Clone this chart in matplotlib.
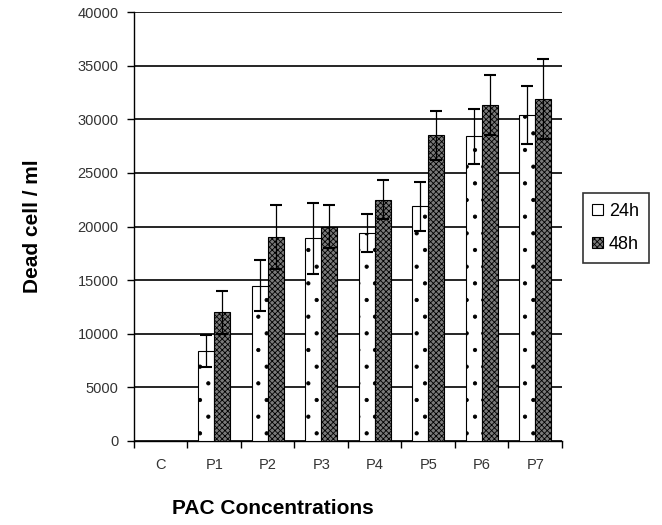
import numpy as np
import matplotlib
matplotlib.use("Agg")
import matplotlib.pyplot as plt

plt.rcParams['font.family'] = ['Liberation Sans', 'DejaVu Sans']
plt.rcParams['hatch.linewidth'] = 0.6

categories = ['C', 'P1', 'P2', 'P3', 'P4', 'P5', 'P6', 'P7']
vals_24h = [0, 8400, 14500, 18900, 19400, 21900, 28400, 30400]
err_24h = [0, 1500, 2400, 3300, 1800, 2300, 2600, 2700]
vals_48h = [0, 12000, 19000, 20000, 22500, 28500, 31300, 31900]
err_48h = [0, 2000, 3000, 2000, 1800, 2300, 2800, 3700]
yticks = [0, 5000, 10000, 15000, 20000, 25000, 30000, 35000, 40000]

fig = plt.figure(figsize=(6.62, 5.25), dpi=100)
ax = fig.add_axes([0.2024, 0.16, 0.6465, 0.817])

x = np.arange(len(categories))
w = 0.3
ax.bar(x - w / 2, vals_24h, w, color='white', edgecolor='black', hatch='.',
       linewidth=0.8, label='24h', zorder=3)
ax.bar(x + w / 2, vals_48h, w, color='#7a7a7a', edgecolor='black', hatch='xxxxxx',
       linewidth=0.8, label='48h', zorder=3)

# error bars only where there is a bar
m = np.array(vals_24h) > 0
ax.errorbar((x - w / 2)[m], np.array(vals_24h)[m], yerr=np.array(err_24h)[m],
            fmt='none', ecolor='black', elinewidth=0.9, capsize=4, capthick=1.5, zorder=4)
ax.errorbar((x + w / 2)[m], np.array(vals_48h)[m], yerr=np.array(err_48h)[m],
            fmt='none', ecolor='black', elinewidth=0.9, capsize=4, capthick=1.5, zorder=4)

ax.set_xlim(-0.5, len(categories) - 0.5)
ax.set_ylim(0, 40000)
ax.set_yticks(yticks)
ax.set_yticklabels([str(v) for v in yticks], fontsize=10.5, color='#333333')
ax.set_xticks(x)
ax.set_xticklabels(categories, fontsize=10.5, color='#333333')
ax.set_xticks(np.arange(len(categories) + 1) - 0.5, minor=True)
ax.tick_params(axis='x', which='major', length=0, pad=12)
ax.tick_params(axis='x', which='minor', length=5, width=1, direction='out')
ax.tick_params(axis='y', length=5, width=1, direction='out', pad=6)

ax.yaxis.grid(True, color='black', linewidth=1.2, zorder=0)
ax.set_axisbelow(True)
ax.spines['top'].set_visible(False)
ax.spines['right'].set_visible(False)
ax.spines['left'].set_linewidth(1.0)
ax.spines['bottom'].set_linewidth(1.0)

ax.set_ylabel('Dead cell / ml', fontsize=15, fontweight='bold')
ax.yaxis.set_label_coords(-0.215, 0.5)
ax.set_xlabel('PAC Concentrations', fontsize=15, fontweight='bold')
ax.xaxis.set_label_coords(0.325, -0.135)

leg = ax.legend(loc='upper left', bbox_to_anchor=(1.027, 0.6), frameon=True,
                fancybox=False, edgecolor='black', fontsize=13,
                handlelength=0.6, handleheight=0.6, handletextpad=0.3,
                borderpad=0.55, labelspacing=0.9)
leg.get_frame().set_linewidth(1.2)

plt.savefig('out.png', dpi=100)
